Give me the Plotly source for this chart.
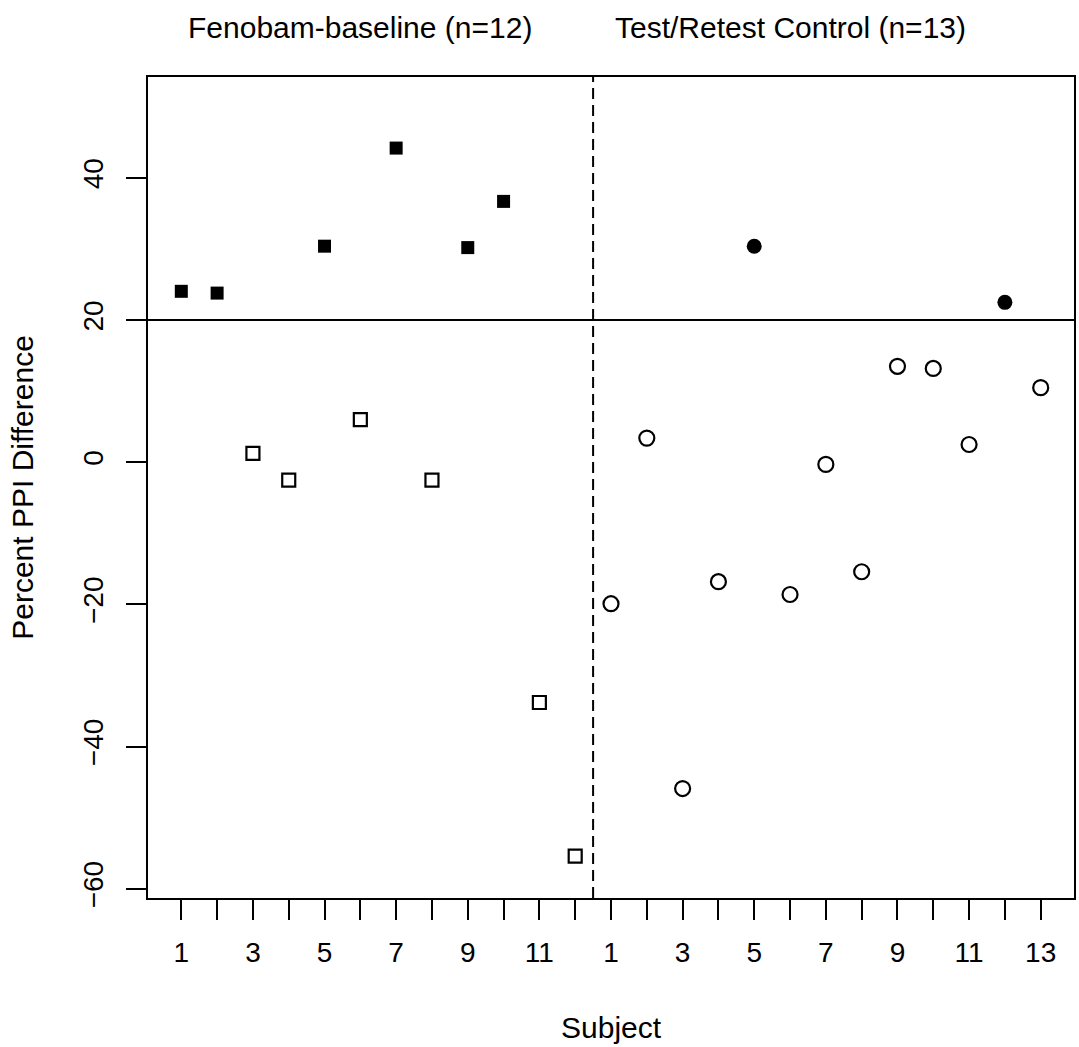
import plotly.graph_objects as go

# Data
fenobam_subjects = list(range(1, 13))
fenobam_values = [24.05, 23.8, 1.25, -2.5, 30.4, 6.0, 44.2, -2.5, 30.2, 36.7, -33.8, -55.4]
control_subjects = list(range(1, 14))
control_values = [-19.9, 3.4, -45.9, -16.8, 30.4, -18.6, -0.3, -15.4, 13.5, 13.2, 2.5, 22.5, 10.5]
threshold = 20
group_titles = ["Fenobam-baseline (n=12)", "Test/Retest Control (n=13)"]
y_ticks = [-60, -40, -20, 0, 20, 40]

n_f = len(fenobam_subjects)
fx = [s for s in fenobam_subjects]
cx = [n_f + s for s in control_subjects]

font_family = "Liberation Sans, Arial, sans-serif"

fig = go.Figure()

def add_group(xs, ys, sym_filled, sym_open, size):
    hx = [x for x, y in zip(xs, ys) if y > threshold]
    hy = [y for y in ys if y > threshold]
    lx = [x for x, y in zip(xs, ys) if y <= threshold]
    ly = [y for y in ys if y <= threshold]
    fig.add_trace(go.Scatter(x=hx, y=hy, mode="markers",
                             marker=dict(symbol=sym_filled, size=size, color="black",
                                         line=dict(width=0)), showlegend=False))
    fig.add_trace(go.Scatter(x=lx, y=ly, mode="markers",
                             marker=dict(symbol=sym_open, size=size, color="black",
                                         line=dict(width=2.2, color="black")), showlegend=False))

add_group(fx, fenobam_values, "square", "square-open", 13)
add_group(cx, control_values, "circle", "circle-open", 15)

# tick labels: label every other tick (as R skips overlapping labels)
tickvals = fx + cx
ticktext = []
for i, s in enumerate(fenobam_subjects + control_subjects):
    ticktext.append(str(s) if i % 2 == 0 else "")

fig.add_shape(type="line", xref="paper", yref="y", x0=0, x1=1, y0=threshold, y1=threshold,
              line=dict(color="black", width=2))
fig.add_shape(type="line", xref="x", yref="paper", x0=n_f + 0.5, x1=n_f + 0.5, y0=0, y1=1,
              line=dict(color="black", width=2, dash="11px,6px"))

title_font = dict(size=30, family=font_family, color="black")
fig.add_annotation(x=6, xref="x", y=1.0597, yref="paper", text=group_titles[0],
                   showarrow=False, font=title_font, xanchor="center", yanchor="middle")
fig.add_annotation(x=18, xref="x", y=1.0597, yref="paper", text=group_titles[1],
                   showarrow=False, font=title_font, xanchor="center", yanchor="middle")
fig.add_annotation(x=0.5, xref="paper", y=-0.158, yref="paper", text="Subject",
                   showarrow=False, font=title_font, xanchor="center", yanchor="middle")
fig.add_annotation(x=-0.1358, xref="paper", y=0.5, yref="paper", text="Percent PPI Difference",
                   showarrow=False, textangle=-90, font=title_font,
                   xanchor="center", yanchor="middle")

fig.update_layout(
    width=1079, height=1047,
    margin=dict(l=148, r=3, t=77, b=149),
    paper_bgcolor="white", plot_bgcolor="white",
    font=dict(family=font_family, size=28, color="black"),
    xaxis=dict(range=[0.07, 25.93], tickmode="array", tickvals=tickvals, ticktext=ticktext,
               ticks="outside", ticklen=20, tickwidth=2, tickcolor="black",
               showgrid=False, zeroline=False, showline=True, linecolor="black",
               linewidth=2, mirror=True, ticklabelstandoff=8),
    yaxis=dict(range=[-61.3, 54.2], tickmode="array", tickvals=y_ticks,
               ticks="outside", ticklen=20, tickwidth=2, tickcolor="black",
               tickangle=-90, showgrid=False, zeroline=False, showline=True,
               linecolor="black", linewidth=2, mirror=True, ticklabelstandoff=12),
)

fig.write_html("out.html",
               config={"displayModeBar": False},
               post_script="document.body.style.margin='0';document.body.style.overflow='hidden';")
